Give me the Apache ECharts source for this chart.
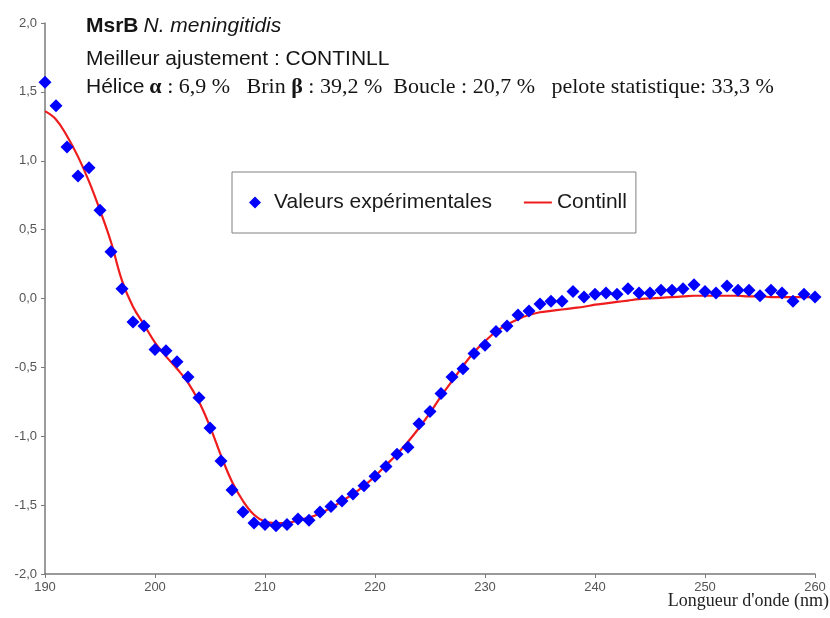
<!DOCTYPE html>
<html>
<head>
<meta charset="utf-8">
<title>MsrB N. meningitidis – dichroïsme circulaire</title>
<script src="https://cdn.jsdelivr.net/npm/echarts@6/dist/echarts.min.js"></script>
<style>
  html, body { margin: 0; padding: 0; background: #fff; }
  #chart { width: 830px; height: 618px; }
</style>
</head>
<body>
<div id="chart"></div>
<script>
// Longueurs d'onde (nm)
const wavelengths = [
  190, 191, 192, 193, 194, 195, 196, 197, 198, 199,
  200, 201, 202, 203, 204, 205, 206, 207, 208, 209,
  210, 211, 212, 213, 214, 215, 216, 217, 218, 219,
  220, 221, 222, 223, 224, 225, 226, 227, 228, 229,
  230, 231, 232, 233, 234, 235, 236, 237, 238, 239,
  240, 241, 242, 243, 244, 245, 246, 247, 248, 249,
  250, 251, 252, 253, 254, 255, 256, 257, 258, 259,
  260
];

// Valeurs expérimentales
const experimental = [
  1.57, 1.40, 1.10, 0.89, 0.95, 0.64, 0.34, 0.07, -0.17, -0.20,
  -0.37, -0.38, -0.46, -0.57, -0.72, -0.94, -1.18, -1.39, -1.55, -1.63,
  -1.64, -1.65, -1.64, -1.60, -1.61, -1.55, -1.51, -1.47, -1.42, -1.36,
  -1.29, -1.22, -1.13, -1.08, -0.91, -0.82, -0.69, -0.57, -0.51, -0.40,
  -0.34, -0.24, -0.20, -0.12, -0.09, -0.04, -0.02, -0.02, 0.05, 0.01,
  0.03, 0.04, 0.03, 0.07, 0.04, 0.04, 0.06, 0.06, 0.07, 0.10,
  0.05, 0.04, 0.09, 0.06, 0.06, 0.02, 0.06, 0.04, -0.02, 0.03,
  0.01
];

// Ajustement CONTINLL
const continll = [
  1.36, 1.30, 1.18, 1.03, 0.85, 0.64, 0.41, 0.13, -0.06, -0.19,
  -0.32, -0.42, -0.51, -0.61, -0.75, -0.93, -1.14, -1.33, -1.47, -1.57,
  -1.62, -1.63, -1.63, -1.61, -1.59, -1.56, -1.52, -1.47, -1.42, -1.36,
  -1.29, -1.21, -1.13, -1.04, -0.94, -0.83, -0.71, -0.60, -0.49, -0.39,
  -0.31, -0.24, -0.19, -0.15, -0.12, -0.10, -0.09, -0.08, -0.07, -0.06,
  -0.045, -0.035, -0.025, -0.015, -0.005, 0.0, 0.005, 0.01, 0.015, 0.02,
  0.02, 0.02, 0.02, 0.02, 0.015, 0.015, 0.01, 0.01, 0.01, 0.01,
  0.01
];

const seriesNames = ['Valeurs expérimentales', 'Continll'];
const xAxisTitle = "Longueur d'onde (nm)";

const sans = '"Liberation Sans", Arial, sans-serif';
const serif = '"Liberation Serif", "Times New Roman", serif';
const ink = '#151515';

// Legend icons: the leading moveTo points fix the icon's bounding box to 28x12
const diamondIcon = 'path://M0,0 M28,12 M14,0 L20,6 L14,12 L8,6 Z';
const lineIcon = 'path://M0,0 M28,12 M0,5 L28,5 L28,7 L0,7 Z';

const pairs = (ys) => wavelengths.map((x, i) => [x, ys[i]]);
const decimalComma = (v) => v.toFixed(1).replace('.', ',');

const chart = echarts.init(document.getElementById('chart'), null, { renderer: 'canvas' });

chart.setOption({
  animation: false,
  backgroundColor: '#ffffff',
  title: [
    {
      left: 86, top: 13, padding: 0,
      text: '{b|MsrB} {i|N. meningitidis}',
      textStyle: {
        rich: {
          b: { fontFamily: sans, fontSize: 21, fontWeight: 'bold', color: ink, lineHeight: 26 },
          i: { fontFamily: sans, fontSize: 21, fontWeight: 'normal', fontStyle: 'italic', color: ink, lineHeight: 26 }
        }
      }
    },
    {
      left: 86, top: 46, padding: 0,
      text: 'Meilleur ajustement : CONTINLL',
      textStyle: { fontFamily: sans, fontSize: 21, fontWeight: 'normal', color: ink, lineHeight: 26 }
    },
    {
      left: 86, top: 74, padding: 0,
      text: '{h|Hélice} {g|α}{t| : 6,9 %   Brin }{g|β}{t| : 39,2 %  Boucle : 20,7 %   pelote statistique: 33,3 %}',
      textStyle: {
        rich: {
          h: { fontFamily: sans, fontSize: 21, fontWeight: 'normal', color: ink, lineHeight: 26 },
          g: { fontFamily: serif, fontSize: 22, fontWeight: 'bold', color: ink, lineHeight: 26 },
          t: { fontFamily: serif, fontSize: 22, fontWeight: 'normal', color: ink, lineHeight: 26 }
        }
      }
    }
  ],
  legend: {
    data: [
      { name: seriesNames[0], icon: diamondIcon },
      { name: seriesNames[1], icon: lineIcon }
    ],
    left: 232, top: 172,
    orient: 'horizontal',
    padding: [20, 9, 20, 9],
    itemGap: 32,
    itemWidth: 28,
    itemHeight: 12,
    borderColor: '#808080',
    borderWidth: 1,
    backgroundColor: '#ffffff',
    textStyle: { fontFamily: sans, fontSize: 21, color: '#1a1a1a' }
  },
  grid: { left: 45, right: 15, top: 23, bottom: 44, containLabel: false, outerBoundsMode: 'none' },
  xAxis: {
    type: 'value',
    min: 190, max: 260, interval: 10,
    name: xAxisTitle,
    nameLocation: 'end',
    nameGap: 14,
    nameMoveOverlap: false,
    nameTextStyle: {
      fontFamily: serif, fontSize: 18, color: '#222',
      align: 'right', verticalAlign: 'top', padding: [18, 0, 0, 0]
    },
    axisLine: { show: true, onZero: false, lineStyle: { color: '#7a7a7a', width: 1.5 } },
    axisTick: { show: true, inside: false, length: 4, lineStyle: { color: '#7a7a7a' } },
    axisLabel: { fontFamily: sans, fontSize: 13, color: '#555', margin: 7 },
    splitLine: { show: false }
  },
  yAxis: {
    type: 'value',
    min: -2, max: 2, interval: 0.5,
    axisLine: { show: true, onZero: false, lineStyle: { color: '#7a7a7a', width: 1.5 } },
    axisTick: { show: true, inside: false, length: 4, lineStyle: { color: '#7a7a7a' } },
    axisLabel: { fontFamily: sans, fontSize: 13, color: '#555', margin: 8, formatter: decimalComma },
    splitLine: { show: false }
  },
  series: [
    {
      name: seriesNames[1],
      type: 'line',
      data: pairs(continll),
      smooth: 0.4,
      symbol: 'none',
      lineStyle: { color: '#ee1c1c', width: 2.2 },
      itemStyle: { color: '#ee1c1c' },
      z: 2
    },
    {
      name: seriesNames[0],
      type: 'scatter',
      data: pairs(experimental),
      symbol: 'diamond',
      symbolSize: 13,
      itemStyle: { color: '#0000ff', opacity: 1 },
      z: 3
    }
  ]
});
</script>
</body>
</html>
